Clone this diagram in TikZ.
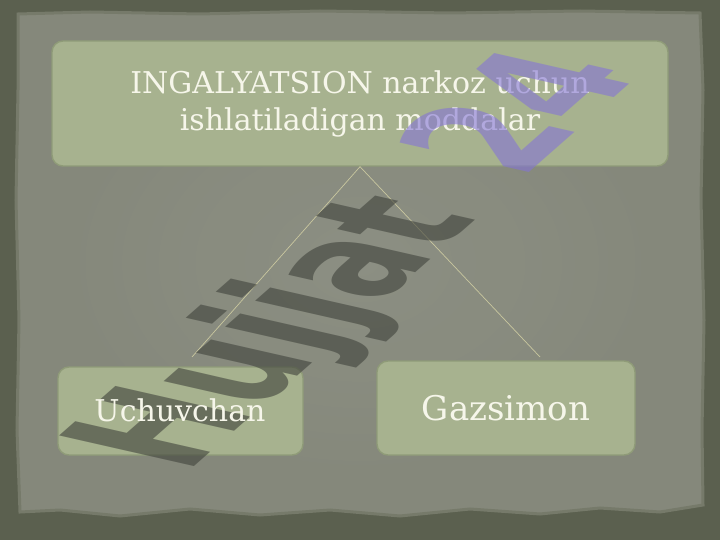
\documentclass[tikz,border=0pt]{standalone}
\usepackage{fontspec}
\setmainfont{DejaVu Serif}
\newfontfamily\wmfont{DejaVu Sans}
\definecolor{outerc}{HTML}{5B604F}
\definecolor{paperc}{HTML}{85887B}
\definecolor{paperin}{HTML}{8E9185}
\definecolor{paperedge}{HTML}{767A6A}
\definecolor{boxfill}{HTML}{A7B28F}
\definecolor{boxline}{HTML}{8F9B78}
\definecolor{txt}{HTML}{F6F6EA}
\definecolor{connc}{HTML}{C9C79F}
\definecolor{wmgrey}{HTML}{3F423B}
\definecolor{wmpurple}{HTML}{8474D6}
\begin{document}
\begin{tikzpicture}[x=1pt,y=-1pt,
  box/.style={draw=boxline, line width=1.4pt, fill=boxfill, rounded corners=11pt},
  lbl/.style={text=txt, align=center, inner sep=0pt},
  conn/.style={draw=connc, line width=0.7pt}]
\useasboundingbox (0,0) rectangle (720,540);
\fill[outerc] (0,0) rectangle (720,540);
% paper
\path[fill=paperc, draw=paperedge, line width=3pt]
  (18,14) -- (90,12) -- (200,14) -- (320,11) -- (450,13) -- (580,11) -- (700,13)
  -- (703,90) -- (701,200) -- (704,320) -- (702,430) -- (703,505)
  -- (660,512) -- (600,508) -- (540,514) -- (470,509) -- (400,516) -- (330,510)
  -- (260,515) -- (190,509) -- (120,516) -- (60,510) -- (20,512)
  -- (17,430) -- (19,320) -- (16,200) -- (18,90) -- cycle;
\shade[inner color=paperin, outer color=paperc, opacity=0.8]
  (30,25) rectangle (690,500);
% boxes
\node[box, minimum width=616pt, minimum height=125pt] (top) at (360,103.5) {};
\node[box, minimum width=245pt, minimum height=88pt] (left) at (180.5,411) {};
\node[box, minimum width=258pt, minimum height=94pt] (right) at (506,408) {};
% connectors
\coordinate (lend) at (192,357);
\coordinate (rend) at (540,357);
\draw[conn] (top.south) -- (lend);
\draw[conn] (top.south) -- (rend);
% top text
\node[lbl, font=\fontsize{30}{37}\selectfont] (toptxt) at (360,104)
  {INGALYATSION narkoz uchun\\ishlatiladigan moddalar};
% watermark
\begin{scope}[shift={(364,262)}]
\node[cm={0.862,0.758,-1.85,0.42,(0,0)}, transform shape, inner sep=0pt,
  font=\wmfont\bfseries\fontsize{100}{100}\selectfont, text opacity=0.6] (wm) at (0,0)
  {\color{wmgrey}Hujjat \hspace{16pt}\color{wmpurple}24};
\end{scope}
% bottom texts
\node[lbl, font=\fontsize{30}{34}\selectfont] (ltxt) at (180,410) {Uchuvchan};
\node[lbl, font=\fontsize{34}{38}\selectfont] (rtxt) at (506,408) {Gazsimon};
\end{tikzpicture}
\end{document}
